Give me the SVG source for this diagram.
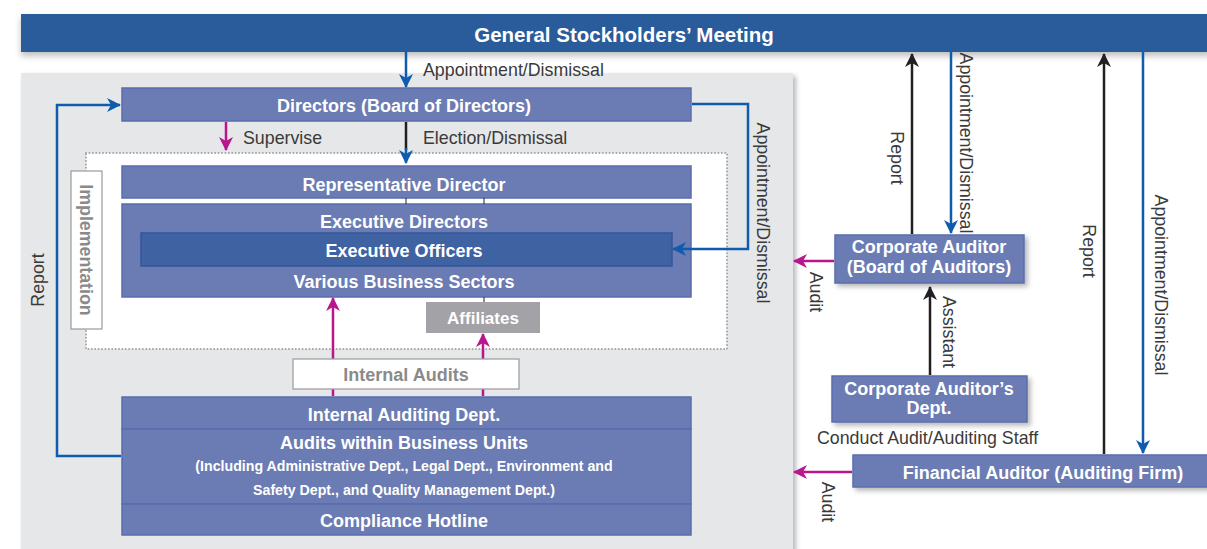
<svg xmlns="http://www.w3.org/2000/svg" width="1207" height="549" viewBox="0 0 1207 549">
  <style>
    .box { fill: #6b7bb3; stroke: #5a6cae; stroke-width: 1.5; }
    .dark { fill: #3f62a2; stroke: #35579a; stroke-width: 1.5; }
    .bt { font-family: "Liberation Sans", Arial, sans-serif; font-weight: bold; font-size: 18px; fill: #ffffff; text-anchor: middle; }
    .sm { font-size: 14.2px; }
    .lbl { font-family: "Liberation Sans", Arial, sans-serif; font-size: 17.8px; fill: #3a3a3a; }
    .mid { text-anchor: middle; }
    .blue { stroke: #0f5cae; stroke-width: 2.5; fill: none; }
    .black { stroke: #231f20; stroke-width: 2.5; fill: none; }
    .mag { stroke: #b8168c; stroke-width: 2.5; fill: none; }
    .thin { stroke: #231f20; stroke-width: 1; fill: none; }
  </style>
  <defs>
    <filter id="shadow" x="-10%" y="-20%" width="130%" height="160%">
      <feDropShadow dx="3" dy="3" stdDeviation="2.5" flood-color="#000" flood-opacity="0.28"/>
    </filter>
    <filter id="barShadow" x="-5%" y="-20%" width="110%" height="160%">
      <feDropShadow dx="0" dy="4" stdDeviation="3" flood-color="#000" flood-opacity="0.25"/>
    </filter>
    <marker id="ahBlue" viewBox="0 0 14 14" refX="13" refY="7" markerWidth="14" markerHeight="14" markerUnits="userSpaceOnUse" orient="auto">
      <path d="M0,0 L14,7 L0,14 L4,7 z" fill="#0f5cae"/>
    </marker>
    <marker id="ahBlack" viewBox="0 0 14 14" refX="13" refY="7" markerWidth="14" markerHeight="14" markerUnits="userSpaceOnUse" orient="auto">
      <path d="M0,0 L14,7 L0,14 L4,7 z" fill="#231f20"/>
    </marker>
    <marker id="ahMag" viewBox="0 0 14 14" refX="13" refY="7" markerWidth="14" markerHeight="14" markerUnits="userSpaceOnUse" orient="auto">
      <path d="M0,0 L14,7 L0,14 L4,7 z" fill="#b8168c"/>
    </marker>
  </defs>

  <!-- company panel -->
  <rect x="21" y="73" width="772" height="480" fill="#e6e7e8" filter="url(#shadow)"/>
  <!-- execution area -->
  <rect x="86" y="153" width="641" height="196" fill="#ffffff" stroke="#a3a3a3" stroke-width="2" stroke-dasharray="0 3.4" stroke-linecap="round"/>

  <!-- top bar -->
  <g id="stockholders">
    <rect x="21" y="14" width="1190" height="38" fill="#2b5c9c" filter="url(#barShadow)"/>
    <text class="bt" x="624" y="42" style="font-size:20.5px">General Stockholders’ Meeting</text>
  </g>

  <g id="directors">
    <rect class="box" x="122" y="88" width="569" height="33"/>
    <text class="bt" x="404" y="111.5">Directors (Board of Directors)</text>
  </g>

  <g id="implementation">
    <rect x="71" y="171" width="31" height="158" fill="#ffffff" stroke="#9a9a9a" stroke-width="1.2"/>
    <text class="lbl mid" style="fill:#8a8a8a;font-weight:bold" transform="translate(80,250) rotate(90)">Implementation</text>
  </g>

  <g id="representative-director">
    <rect class="box" x="122" y="166" width="569" height="32"/>
    <text class="bt" x="404" y="190.5">Representative Director</text>
  </g>

  <g id="executive">
    <rect class="box" x="122" y="204" width="569" height="93"/>
    <text class="bt" x="404" y="227.5">Executive Directors</text>
    <text class="bt" x="404" y="287.5">Various Business Sectors</text>
  </g>

  <g id="executive-officers">
    <rect class="dark" x="141" y="233" width="531" height="33"/>
    <text class="bt" x="404" y="256.5">Executive Officers</text>
  </g>

  <g id="affiliates">
    <rect x="426" y="302" width="114" height="31" fill="#a3a3a7"/>
    <text class="bt" x="483" y="324" style="font-size:17px">Affiliates</text>
  </g>

  <g id="internal-audits">
    <rect x="293" y="359" width="226" height="30" fill="#ffffff" stroke="#9a9a9a" stroke-width="1.2"/>
    <text class="bt" x="406" y="380.5" style="fill:#8a8a8a">Internal Audits</text>
  </g>

  <g id="internal-auditing">
    <rect class="box" x="122" y="397" width="569" height="32"/>
    <text class="bt" x="404" y="421">Internal Auditing Dept.</text>
    <rect class="box" x="122" y="429" width="569" height="75"/>
    <text class="bt" x="404" y="449">Audits within Business Units</text>
    <text class="bt sm" x="404" y="471">(Including Administrative Dept., Legal Dept., Environment and</text>
    <text class="bt sm" x="404" y="495">Safety Dept., and Quality Management Dept.)</text>
    <rect class="box" x="122" y="504" width="569" height="31"/>
    <text class="bt" x="404" y="527">Compliance Hotline</text>
  </g>

  <g id="corporate-auditor">
    <rect class="box" x="835" y="235" width="189" height="48" filter="url(#shadow)"/>
    <text class="bt" x="929" y="253">Corporate Auditor</text>
    <text class="bt" x="929" y="273">(Board of Auditors)</text>
  </g>

  <g id="auditors-dept">
    <rect class="box" x="832" y="376" width="195" height="46" filter="url(#shadow)"/>
    <text class="bt" x="929" y="395">Corporate Auditor’s</text>
    <text class="bt" x="929" y="414">Dept.</text>
  </g>

  <g id="financial-auditor">
    <rect class="box" x="853" y="455" width="360" height="32" filter="url(#shadow)"/>
    <text class="bt" x="1043" y="478.5">Financial Auditor (Auditing Firm)</text>
  </g>

  <!-- connectors, drawn over the boxes so the arrowheads stay visible -->
  <g id="connectors">
    <line class="blue" x1="406" y1="52" x2="406" y2="87" marker-end="url(#ahBlue)"/>
    <line class="mag" x1="226" y1="122" x2="226" y2="150" marker-end="url(#ahMag)"/>
    <line class="black" x1="406" y1="122" x2="406" y2="150"/>
    <line class="blue" x1="406" y1="148" x2="406" y2="163" marker-end="url(#ahBlue)"/>
    <line class="thin" x1="406" y1="198" x2="406" y2="204"/>
    <line class="thin" x1="484" y1="198" x2="484" y2="204"/>
    <line class="thin" x1="484" y1="297" x2="484" y2="302"/>
    <polyline class="blue" points="692,104 748,104 748,249 673,249" marker-end="url(#ahBlue)"/>
    <polyline class="blue" points="121,456 57,456 57,105 120,105" marker-end="url(#ahBlue)"/>
    <!-- internal audit arrows pass behind the "Internal Audits" label box -->
    <path class="mag" d="M333,396 V389.6 M333,358.4 V298" marker-end="url(#ahMag)"/>
    <path class="mag" d="M483,396 V389.6 M483,358.4 V334" marker-end="url(#ahMag)"/>
    <line class="black" x1="912" y1="234" x2="912" y2="54" marker-end="url(#ahBlack)"/>
    <line class="blue" x1="951" y1="52" x2="951" y2="233" marker-end="url(#ahBlue)"/>
    <line class="mag" x1="834" y1="261" x2="794" y2="261" marker-end="url(#ahMag)"/>
    <line class="black" x1="930" y1="375" x2="930" y2="287" marker-end="url(#ahBlack)"/>
    <line class="black" x1="1104" y1="454" x2="1104" y2="54" marker-end="url(#ahBlack)"/>
    <line class="blue" x1="1143" y1="52" x2="1143" y2="453" marker-end="url(#ahBlue)"/>
    <line class="mag" x1="852" y1="472" x2="794" y2="472" marker-end="url(#ahMag)"/>

    <text class="lbl" x="423" y="76">Appointment/Dismissal</text>
    <text class="lbl" x="243" y="144">Supervise</text>
    <text class="lbl" x="423" y="144">Election/Dismissal</text>
    <text class="lbl mid" transform="translate(757,213) rotate(90)">Appointment/Dismissal</text>
    <text class="lbl mid" transform="translate(44,280) rotate(-90)">Report</text>
    <text class="lbl mid" transform="translate(891,158) rotate(90)">Report</text>
    <text class="lbl mid" transform="translate(960,143) rotate(90)">Appointment/Dismissal</text>
    <text class="lbl mid" transform="translate(810,292) rotate(90)">Audit</text>
    <text class="lbl mid" transform="translate(943,332) rotate(90)">Assistant</text>
    <text class="lbl mid" transform="translate(1083,251) rotate(90)">Report</text>
    <text class="lbl mid" transform="translate(1155,285) rotate(90)">Appointment/Dismissal</text>
    <text class="lbl mid" transform="translate(822,502) rotate(90)">Audit</text>
    <text class="lbl" x="817" y="444">Conduct Audit/Auditing Staff</text>
  </g>
</svg>
